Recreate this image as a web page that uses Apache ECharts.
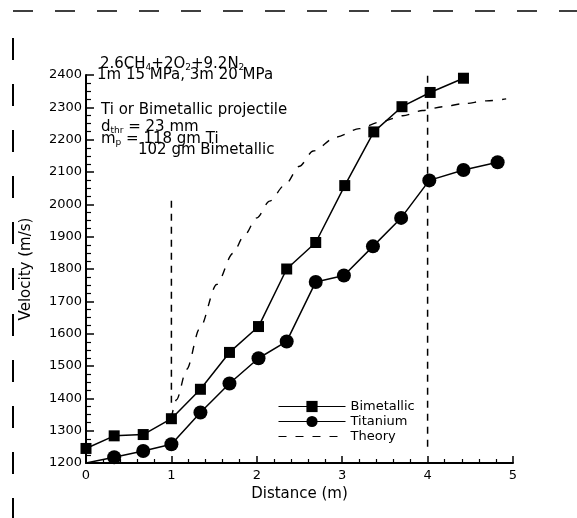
<!DOCTYPE html>
<html><head><meta charset="utf-8">
<script src="https://cdn.jsdelivr.net/npm/echarts@6/dist/echarts.min.js"></script>
<style>html,body{margin:0;padding:0;background:#fff;}#c{width:577px;height:518px;}</style>
</head><body><div id="c"></div>
<script>
// Data
var bimX = [0, 0.33, 0.67, 1.0, 1.34, 1.68, 2.02, 2.35, 2.69, 3.03, 3.37, 3.70, 4.03, 4.42];
var bimV = [1245, 1284, 1288, 1337, 1428, 1542, 1622, 1800, 1882, 2058, 2224, 2302, 2346, 2390];
var tiX = [0, 0.33, 0.67, 1.0, 1.34, 1.68, 2.02, 2.35, 2.69, 3.02, 3.36, 3.69, 4.02, 4.42, 4.82];
var tiV = [1200, 1218, 1237, 1258, 1356, 1446, 1524, 1576, 1760, 1780, 1870, 1958, 2074, 2106, 2130];
var thX = [1.0, 1.06, 1.18, 1.33, 1.53, 1.72, 1.85, 2.0, 2.15, 2.33, 2.5, 2.66, 2.93, 3.2, 3.44, 3.71, 3.94, 4.18, 4.41, 4.69, 4.92];
var thV = [1340, 1396, 1490, 1615, 1752, 1848, 1902, 1958, 2010, 2060, 2118, 2165, 2208, 2234, 2254, 2274, 2290, 2302, 2311, 2320, 2326];
var ref1X = [1, 1], ref1V = [1386, 2028];
var ref4X = [4, 4], ref4V = [1250, 2414];
var xTicks = [0, 1, 2, 3, 4, 5];
var yTicks = [1200, 1300, 1400, 1500, 1600, 1700, 1800, 1900, 2000, 2100, 2200, 2300, 2400];
var seriesNames = ['Bimetallic', 'Titanium', 'Theory'];

function pairs(xs, ys) { return xs.map(function (x, i) { return [x, ys[i]]; }); }
var tiData = pairs(tiX, tiV).map(function (p, i) { return i === 0 ? { value: p, symbol: 'none' } : p; });

var FONT = 'DejaVu Sans';
var chart = echarts.init(document.getElementById('c'), null, { renderer: 'canvas' });

var border = [];
// scanned frame: dashed top and left border
border.push({ type: 'line', shape: { x1: 13, y1: 11, x2: 577, y2: 11 }, style: { stroke: '#000', lineWidth: 1.5, lineDash: [20, 22] }, silent: true });
border.push({ type: 'line', shape: { x1: 13, y1: 38, x2: 13, y2: 518 }, style: { stroke: '#000', lineWidth: 2, lineDash: [22, 24] }, silent: true });

var rich = { sub: { fontSize: 9, fontFamily: FONT, fill: '#000', padding: [7, 0, 0, 0] }, m: { fontSize: 15, fontFamily: FONT, fill: '#000' } };
function T(x, y, text) {
  return { type: 'text', x: x, y: y, silent: true, style: { text: text, fill: '#000', fontSize: 15, fontFamily: FONT, rich: rich } };
}

chart.setOption({
  animation: false,
  grid: { left: 86, right: 64, top: 75, bottom: 55, containLabel: false },
  legend: {
    data: [
      { name: seriesNames[0] },
      { name: seriesNames[1] },
      { name: seriesNames[2], itemStyle: { opacity: 0 } }
    ],
    orient: 'vertical', left: 273, top: 395,
    itemWidth: 67, itemHeight: 14, itemGap: 2,
    lineStyle: { width: 1 },
    textStyle: { fontFamily: FONT, fontSize: 13, color: '#000' }
  },
  xAxis: {
    type: 'value', min: 0, max: 5, interval: 1,
    name: 'Distance (m)', nameLocation: 'middle', nameGap: 24,
    nameTextStyle: { fontFamily: FONT, fontSize: 15, color: '#000' },
    axisLine: { show: true, onZero: false, lineStyle: { color: '#000', width: 2 } },
    axisTick: { show: true, inside: true, length: 7, lineStyle: { color: '#000', width: 1.5 } },
    minorTick: { show: true, splitNumber: 5, length: 4, lineStyle: { color: '#000', width: 1.2 } },
    splitLine: { show: false },
    axisLabel: { fontFamily: FONT, fontSize: 13, color: '#000', margin: 6,
      formatter: function (v) { return xTicks.indexOf(v) >= 0 ? String(v) : ''; } }
  },
  yAxis: {
    type: 'value', min: 1200, max: 2400, interval: 100,
    name: 'Velocity (m/s)', nameLocation: 'middle', nameGap: 52, nameRotate: 90,
    nameTextStyle: { fontFamily: FONT, fontSize: 15, color: '#000' },
    axisLine: { show: true, onZero: false, lineStyle: { color: '#000', width: 2 } },
    axisTick: { show: true, inside: true, length: 8, lineStyle: { color: '#000', width: 1.5 } },
    minorTick: { show: true, splitNumber: 4, length: 5, lineStyle: { color: '#000', width: 1.2 } },
    splitLine: { show: false },
    axisLabel: { fontFamily: FONT, fontSize: 13, color: '#000', margin: 4,
      formatter: function (v) { return yTicks.indexOf(v) >= 0 ? String(v) : ''; } }
  },
  series: [
    { name: 'Bimetallic', type: 'line', data: pairs(bimX, bimV), symbol: 'rect', symbolSize: 11,
      lineStyle: { color: '#000', width: 1.5 }, itemStyle: { color: '#000' }, z: 5, clip: false },
    { name: 'Titanium', type: 'line', data: tiData, symbol: 'circle', symbolSize: 14,
      lineStyle: { color: '#000', width: 1.5 }, itemStyle: { color: '#000' }, z: 5, clip: false },
    { name: 'Theory', type: 'line', data: pairs(thX, thV), symbol: 'none', smooth: 0.3, smoothMonotone: 'x',
      lineStyle: { color: '#000', width: 1.4, type: [8, 9] }, itemStyle: { color: '#000' }, z: 4 },
    { name: 'ref1', type: 'line', data: pairs(ref1X, ref1V), symbol: 'none', clip: false,
      lineStyle: { color: '#000', width: 1.5, type: [7, 6] }, z: 3 },
    { name: 'ref4', type: 'line', data: pairs(ref4X, ref4V), symbol: 'none', clip: false,
      lineStyle: { color: '#000', width: 1.5, type: [7, 6] }, z: 3 }
  ],
  graphic: border.concat([
    T(100, 56, '{m|2.6CH}{sub|4}{m|+2O}{sub|2}{m|+9.2N}{sub|2}'),
    T(97, 68, '1m 15 MPa, 3m 20 MPa'),
    T(101, 103, 'Ti or Bimetallic projectile'),
    T(101, 119, '{m|d}{sub|thr}{m| = 23 mm}'),
    T(101, 131, '{m|m}{sub|p}{m| = 118 gm Ti}'),
    T(138, 143, '102 gm Bimetallic')
  ])
});
</script></body></html>
